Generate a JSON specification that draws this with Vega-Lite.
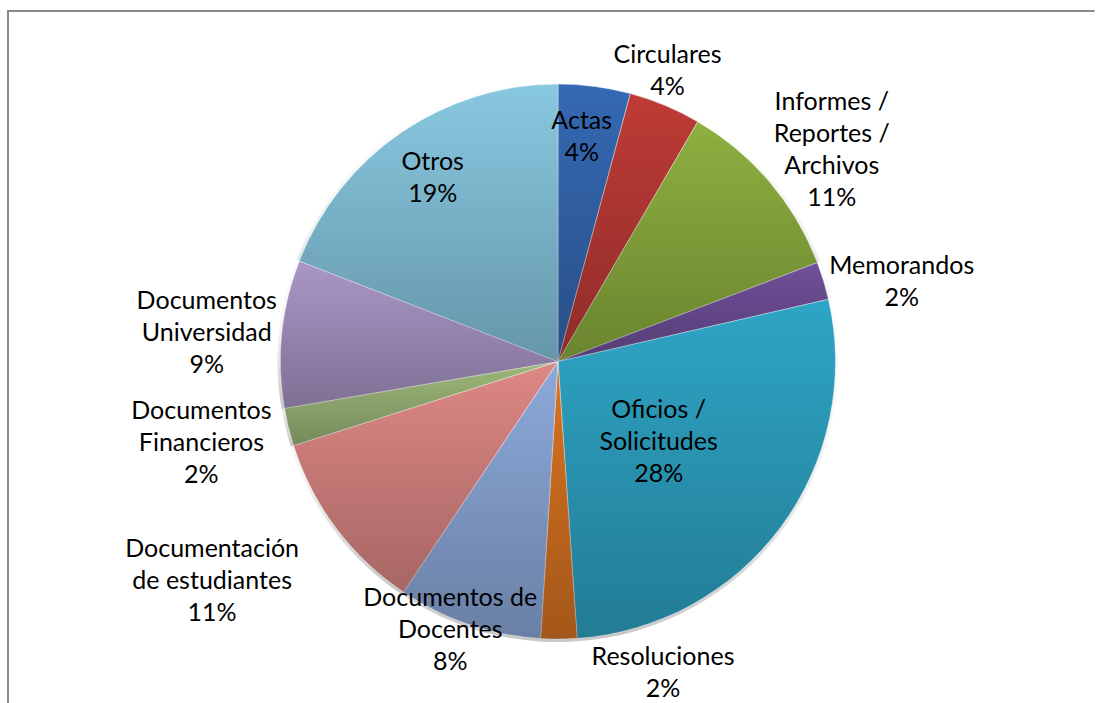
{
  "$schema": "https://vega.github.io/schema/vega-lite/v6.json",
  "width": 1100,
  "height": 701,
  "autosize": {"type": "none"},
  "padding": {"left": 8, "top": 11, "right": -12, "bottom": -9},
  "background": "white",
  "view": {
    "strokeWidth": 2,
    "stroke": {"gradient": "linear", "x1": 0, "y1": 0, "x2": 1, "y2": 0, "stops": [{"offset": 0, "color": "#8a8a8a"}, {"offset": 0.9875, "color": "#8a8a8a"}, {"offset": 0.988, "color": "rgba(138,138,138,0)"}, {"offset": 1, "color": "rgba(138,138,138,0)"}]}
  },
  "config": {
    "text": {"font": "Lato", "fontSize": 25, "lineHeight": 32, "lineBreak": "\n", "color": "#000000", "baseline": "middle", "align": "center"}
  },
  "data": {
    "values": [
      {"orden": 1, "categoria": "Actas", "valor": 4.2, "etiqueta": "Actas\n4%"},
      {"orden": 2, "categoria": "Circulares", "valor": 4.2, "etiqueta": "Circulares\n4%"},
      {"orden": 3, "categoria": "Informes / Reportes / Archivos", "valor": 10.8, "etiqueta": "Informes /\nReportes /\nArchivos\n11%"},
      {"orden": 4, "categoria": "Memorandos", "valor": 2.2, "etiqueta": "Memorandos\n2%"},
      {"orden": 5, "categoria": "Oficios / Solicitudes", "valor": 27.5, "etiqueta": "Oficios /\nSolicitudes\n28%"},
      {"orden": 6, "categoria": "Resoluciones", "valor": 2.1, "etiqueta": "Resoluciones\n2%"},
      {"orden": 7, "categoria": "Documentos de Docentes", "valor": 8.4, "etiqueta": "Documentos de\nDocentes\n8%"},
      {"orden": 8, "categoria": "Documentación de estudiantes", "valor": 10.7, "etiqueta": "Documentación\nde estudiantes\n11%"},
      {"orden": 9, "categoria": "Documentos Financieros", "valor": 2.2, "etiqueta": "Documentos\nFinancieros\n2%"},
      {"orden": 10, "categoria": "Documentos Universidad", "valor": 8.6, "etiqueta": "Documentos\nUniversidad\n9%"},
      {"orden": 11, "categoria": "Otros", "valor": 19.1, "etiqueta": "Otros\n19%"}
    ]
  },
  "layer": [
    {
      "mark": {"type": "point", "opacity": 0},
      "encoding": {
        "x": {"field": "orden", "type": "quantitative", "axis": null},
        "y": {"field": "valor", "type": "quantitative", "axis": null}
      }
    },
    {
      "encoding": {
        "theta": {"field": "valor", "type": "quantitative", "stack": true},
        "order": {"field": "orden", "type": "quantitative"}
      },
      "layer": [
        {
          "mark": {
            "type": "arc",
            "radius": 280.5,
            "fill": {"gradient": "linear", "x1": 0, "y1": 0, "x2": 0, "y2": 1, "stops": [{"offset": 0, "color": "rgba(0,0,0,0)"}, {"offset": 0.5, "color": "rgba(0,0,0,0.05)"}, {"offset": 1, "color": "rgba(0,0,0,0.22)"}]}
          },
          "encoding": {}
        },
        {
          "mark": {"type": "arc", "radius": 277.5, "stroke": "#ffffff", "strokeWidth": 0.7, "strokeOpacity": 0.6},
          "encoding": {
            "color": {
              "field": "categoria",
              "type": "nominal",
              "legend": null,
              "scale": {
                "domain": ["Actas", "Circulares", "Informes / Reportes / Archivos", "Memorandos", "Oficios / Solicitudes", "Resoluciones", "Documentos de Docentes", "Documentación de estudiantes", "Documentos Financieros", "Documentos Universidad", "Otros"],
                "range": ["#3569B3", "#BE3B36", "#8DB03F", "#70509A", "#2EA5C6", "#DA7422", "#8DAADB", "#DE8885", "#9DB879", "#A996C6", "#88C8E1"]
              }
            }
          }
        },
        {
          "mark": {
            "type": "arc",
            "radius": 277.5,
            "fill": {"gradient": "linear", "x1": 0, "y1": 0, "x2": 0, "y2": 1, "stops": [{"offset": 0, "color": "rgba(0,0,0,0)"}, {"offset": 1, "color": "rgba(0,0,0,0.25)"}]}
          },
          "encoding": {}
        },
        {"mark": {"type": "text", "radius": 226, "dx": -6, "dy": -16}, "encoding": {"text": {"condition": {"test": "datum.orden === 1", "field": "etiqueta"}, "value": ""}}},
        {"mark": {"type": "text", "radius": 310, "dx": -10, "dy": -20}, "encoding": {"text": {"condition": {"test": "datum.orden === 2", "field": "etiqueta"}, "value": ""}}},
        {"mark": {"type": "text", "radius": 346, "dx": 10, "dy": -36}, "encoding": {"text": {"condition": {"test": "datum.orden === 3", "field": "etiqueta"}, "value": ""}}},
        {"mark": {"type": "text", "radius": 353, "dx": 6, "dy": 7}, "encoding": {"text": {"condition": {"test": "datum.orden === 4", "field": "etiqueta"}, "value": ""}}},
        {"mark": {"type": "text", "radius": 129, "dx": -3, "dy": -28}, "encoding": {"text": {"condition": {"test": "datum.orden === 5", "field": "etiqueta"}, "value": ""}}},
        {"mark": {"type": "text", "radius": 329, "dx": 104, "dy": -33}, "encoding": {"text": {"condition": {"test": "datum.orden === 6", "field": "etiqueta"}, "value": ""}}},
        {"mark": {"type": "text", "radius": 289, "dx": -15, "dy": -37}, "encoding": {"text": {"condition": {"test": "datum.orden === 7", "field": "etiqueta"}, "value": ""}}},
        {"mark": {"type": "text", "radius": 410, "dx": -18, "dy": -59}, "encoding": {"text": {"condition": {"test": "datum.orden === 8", "field": "etiqueta"}, "value": ""}}},
        {"mark": {"type": "text", "radius": 366, "dx": -1, "dy": -37}, "encoding": {"text": {"condition": {"test": "datum.orden === 9", "field": "etiqueta"}, "value": ""}}},
        {"mark": {"type": "text", "radius": 352, "dx": -1, "dy": -25}, "encoding": {"text": {"condition": {"test": "datum.orden === 10", "field": "etiqueta"}, "value": ""}}},
        {"mark": {"type": "text", "radius": 222, "dy": -16}, "encoding": {"text": {"condition": {"test": "datum.orden === 11", "field": "etiqueta"}, "value": ""}}}
      ]
    }
  ]
}
